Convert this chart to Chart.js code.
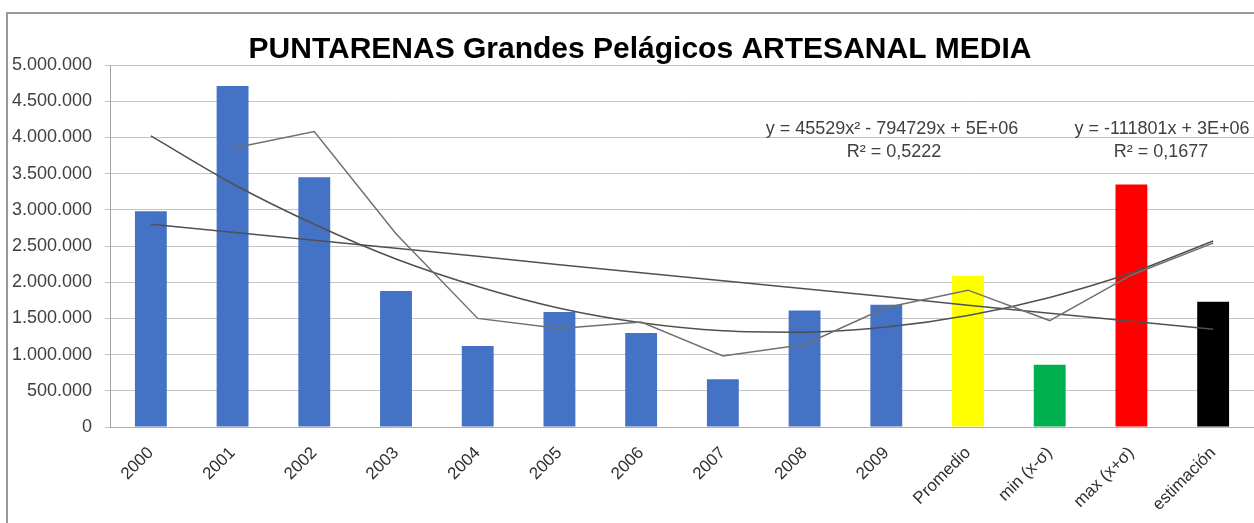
<!DOCTYPE html>
<html>
<head>
<meta charset="utf-8">
<script src="https://cdn.jsdelivr.net/npm/chart.js@4/dist/chart.umd.min.js"></script>
<style>
html,body{margin:0;padding:0;background:#fff;}
#wrap{width:1254px;height:523px;position:relative;}
</style>
</head>
<body>
<div id="wrap"><canvas id="c" width="1254" height="523"></canvas></div>
<script>
const categories = ['2000','2001','2002','2003','2004','2005','2006','2007','2008','2009','Promedio','min (x-σ)','max (x+σ)','estimación'];
const barValues = [2980000,4710000,3450000,1880000,1120000,1590000,1300000,660000,1610000,1690000,2090000,860000,3350000,1730000];
const barColors = ['#4472C4','#4472C4','#4472C4','#4472C4','#4472C4','#4472C4','#4472C4','#4472C4','#4472C4','#4472C4','#FFFF00','#00B050','#FF0000','#000000'];
const movingAvg = [null,3850000,4080000,2670000,1500000,1360000,1450000,980000,1140000,1650000,1890000,1470000,2100000,2540000];
const polyTrend = [4020000,3360000,2800000,2320000,1940000,1640000,1440000,1330000,1310000,1380000,1540000,1790000,2130000,2570000];
const linearTrend = [2800000,2690000,2580000,2470000,2360000,2240000,2130000,2020000,1910000,1800000,1680000,1570000,1460000,1350000];
const yTicksMax = 5000000;
const yTickStep = 500000;
const titleText = 'PUNTARENAS Grandes Pelágicos ARTESANAL MEDIA';
const polyEq = ['y = 45529x² - 794729x + 5E+06', 'R² = 0,5222'];
const linEq = ['y = -111801x + 3E+06', 'R² = 0,1677'];

function fmt(v){ return String(v).replace(/\B(?=(\d{3})+(?!\d))/g, '.'); }

const framePlugin = {
  id: 'frame',
  beforeDraw(chart){
    const ctx = chart.ctx;
    ctx.save();
    ctx.fillStyle = '#ffffff';
    ctx.fillRect(0,0,chart.width,chart.height);
    ctx.strokeStyle = '#9a9a9a';
    ctx.lineWidth = 2;
    ctx.strokeRect(7,13,chart.width+20,chart.height+20);
    ctx.restore();
  },
  afterDraw(chart){
    const ctx = chart.ctx;
    ctx.save();
    ctx.fillStyle = '#000000';
    ctx.font = 'bold 30px "Liberation Sans", Arial, sans-serif';
    ctx.textAlign = 'center';
    ctx.textBaseline = 'middle';
    ctx.fillText(titleText, 640, 50);
    ctx.fillStyle = '#404040';
    ctx.font = '18px "Liberation Sans", Arial, sans-serif';
    ctx.fillText(polyEq[0], 892, 129);
    ctx.fillText(polyEq[1], 894, 152);
    ctx.fillText(linEq[0], 1162, 129);
    ctx.fillText(linEq[1], 1161, 152);
    ctx.restore();
  }
};

new Chart(document.getElementById('c'), {
  data: {
    labels: categories,
    datasets: [
      { type:'line', label:'Media móvil', data: movingAvg, borderColor:'#707070', borderWidth:1.5, pointRadius:0, fill:false, tension:0, order:1, spanGaps:false },
      { type:'line', label:'Polinómica', data: polyTrend, borderColor:'#505050', borderWidth:1.5, pointRadius:0, fill:false, tension:0.4, cubicInterpolationMode:'monotone', order:1 },
      { type:'line', label:'Lineal', data: linearTrend, borderColor:'#505050', borderWidth:1.5, pointRadius:0, fill:false, tension:0, order:1 },
      { type:'bar', label:'Valor', data: barValues, backgroundColor: barColors, borderWidth:0, barPercentage:0.39, categoryPercentage:1.0, order:2 }
    ]
  },
  options: {
    responsive:false,
    animation:false,
    layout:{ padding:{ left:0, right:0, top:65, bottom:0 } },
    plugins:{
      legend:{ display:false },
      tooltip:{ enabled:false },
      title:{ display:false }
    },
    scales:{
      x:{
        grid:{ display:false, drawTicks:false },
        border:{ display:true, color:'#b0b0b0', width:1 },
        ticks:{ color:'#303030', font:{ family:'"Liberation Sans", Arial, sans-serif', size:17 }, maxRotation:45, minRotation:45, padding:16, autoSkip:false },
        afterFit(scale){ scale.height = 96; }
      },
      y:{
        min:0, max:yTicksMax,
        grid:{ color:'#c4c4c4', lineWidth:1, tickLength:5, drawTicks:true },
        border:{ display:true, color:'#a0a0a0', width:1 },
        ticks:{ stepSize:yTickStep, color:'#404040', padding:13, font:{ family:'"Liberation Sans", Arial, sans-serif', size:18 }, callback:(v)=>fmt(v) },
        afterFit(scale){ scale.width = 110; }
      }
    }
  },
  plugins:[framePlugin]
});
</script>
</body>
</html>
